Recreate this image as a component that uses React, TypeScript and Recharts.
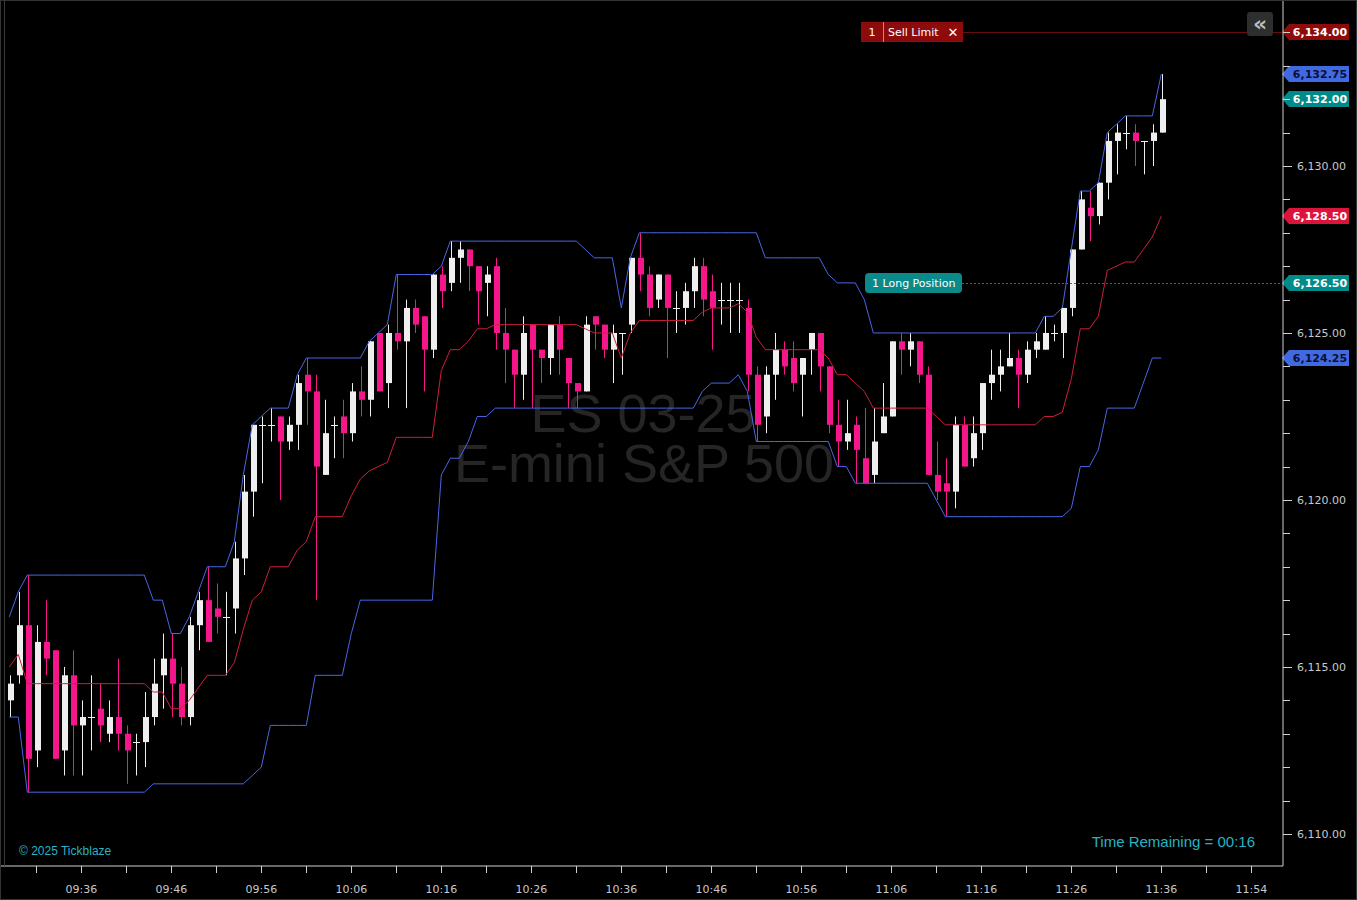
import { ComposedChart, Bar, Line, XAxis, YAxis, ReferenceLine } from 'recharts';

// 1-minute ES bars, 09:28 -> 11:36
const opens = [
    6114.0, 6114.75, 6116.25, 6112.5, 6115.75, 6115.5, 6112.5, 6114.75, 6113.25, 6113.5,
    6113.75, 6113.0, 6113.5, 6113.0, 6112.75, 6112.75, 6113.5, 6114.75, 6115.25, 6114.5,
    6113.5, 6116.25, 6117.0, 6116.75, 6116.5, 6116.75, 6118.25, 6120.25, 6122.25, 6122.25,
    6122.5, 6121.75, 6122.25, 6123.75, 6123.25, 6120.75, 6122.25, 6122.5, 6122.0, 6123.25,
    6123.0, 6125.0, 6123.5, 6125.0, 6124.75, 6125.75, 6125.5, 6124.5, 6126.75, 6126.5,
    6127.25, 6127.5, 6127.0, 6126.5, 6127.0, 6125.0, 6124.5, 6123.75, 6125.25, 6124.5,
    6124.25, 6125.25, 6124.25, 6123.5, 6123.25, 6125.5, 6125.25, 6124.5, 6125.0, 6125.25,
    6127.25, 6126.75, 6126.0, 6126.75, 6125.75, 6125.75, 6126.25, 6127.0, 6126.25, 6126.0,
    6126.0, 6126.0, 6125.75, 6123.75, 6122.5, 6123.75, 6124.5, 6124.25, 6123.75, 6124.5,
    6125.0, 6124.0, 6122.25, 6121.75, 6122.25, 6121.25, 6120.75, 6122.0, 6122.5, 6124.75,
    6124.5, 6124.75, 6123.75, 6120.75, 6120.5, 6120.25, 6122.25, 6121.25, 6122.0, 6123.5,
    6123.75, 6124.0, 6124.25, 6123.75, 6124.5, 6124.5, 6125.0, 6125.0, 6125.75, 6127.5,
    6128.75, 6128.5, 6129.5, 6130.75, 6131.0, 6131.0, 6130.75, 6130.75, 6131.0,
];
const highs = [
    6114.75, 6117.25, 6117.75, 6116.25, 6117.0, 6115.5, 6115.0, 6115.5, 6114.0, 6114.75,
    6114.5, 6114.0, 6115.25, 6113.25, 6113.0, 6114.25, 6115.25, 6116.0, 6116.0, 6115.0,
    6116.5, 6117.25, 6118.0, 6117.5, 6117.25, 6118.75, 6120.75, 6122.25, 6122.5, 6122.75,
    6122.5, 6122.5, 6123.75, 6124.25, 6123.75, 6123.0, 6122.5, 6123.0, 6123.5, 6124.0,
    6124.75, 6125.0, 6125.25, 6126.75, 6126.0, 6126.0, 6125.5, 6126.75, 6127.0, 6127.75,
    6127.75, 6127.5, 6127.0, 6127.0, 6127.25, 6125.75, 6124.5, 6125.5, 6125.25, 6124.5,
    6125.25, 6125.5, 6124.25, 6123.5, 6125.5, 6125.5, 6125.25, 6125.25, 6125.0, 6127.25,
    6128.0, 6127.0, 6126.75, 6126.75, 6126.25, 6126.5, 6127.25, 6127.25, 6126.75, 6126.5,
    6126.5, 6126.5, 6126.0, 6124.0, 6124.0, 6125.0, 6124.75, 6124.75, 6124.25, 6125.0,
    6125.0, 6124.0, 6123.0, 6123.0, 6122.5, 6122.75, 6122.75, 6123.5, 6124.75, 6125.0,
    6125.0, 6124.75, 6124.0, 6121.75, 6121.25, 6122.5, 6122.5, 6122.5, 6123.5, 6124.5,
    6124.5, 6125.0, 6124.5, 6124.75, 6125.0, 6125.5, 6125.25, 6125.75, 6127.5, 6129.25,
    6129.25, 6129.5, 6131.0, 6131.25, 6131.5, 6131.25, 6130.75, 6131.25, 6132.75,
];
const lows = [
    6113.5, 6114.5, 6111.25, 6112.0, 6114.75, 6112.25, 6111.75, 6111.75, 6111.75, 6112.5,
    6112.75, 6112.75, 6112.5, 6111.5, 6111.75, 6112.0, 6113.25, 6113.75, 6113.5, 6113.25,
    6113.25, 6115.5, 6115.75, 6116.0, 6114.75, 6116.0, 6117.75, 6119.5, 6120.5, 6121.75,
    6120.0, 6121.5, 6121.5, 6122.25, 6117.0, 6120.75, 6121.25, 6121.25, 6121.75, 6122.5,
    6122.5, 6123.25, 6122.75, 6124.5, 6122.75, 6125.0, 6123.25, 6124.25, 6125.75, 6126.25,
    6126.5, 6126.25, 6125.25, 6125.5, 6124.5, 6123.5, 6122.75, 6123.0, 6122.75, 6123.5,
    6123.75, 6123.75, 6122.75, 6122.75, 6123.25, 6124.5, 6124.25, 6123.5, 6123.75, 6125.0,
    6126.25, 6125.5, 6125.75, 6124.25, 6125.0, 6125.25, 6125.75, 6125.5, 6124.5, 6125.25,
    6125.0, 6125.0, 6123.25, 6121.75, 6122.0, 6123.0, 6123.75, 6123.25, 6122.5, 6123.75,
    6123.25, 6122.0, 6121.0, 6121.5, 6120.5, 6120.5, 6120.5, 6122.0, 6122.5, 6123.75,
    6124.0, 6123.5, 6120.75, 6120.0, 6119.5, 6119.75, 6121.0, 6121.0, 6121.5, 6123.0,
    6123.25, 6124.0, 6122.75, 6123.5, 6124.25, 6124.5, 6124.75, 6124.25, 6125.5, 6127.5,
    6127.75, 6128.25, 6129.0, 6129.75, 6130.5, 6130.0, 6129.75, 6130.0, 6131.0,
];
const closes = [
    6114.5, 6116.25, 6112.25, 6115.75, 6115.25, 6112.25, 6114.75, 6113.25, 6113.5, 6113.5,
    6113.25, 6113.5, 6113.0, 6112.5, 6112.75, 6113.5, 6114.5, 6115.25, 6114.5, 6113.5,
    6116.25, 6117.0, 6115.75, 6116.5, 6116.5, 6118.25, 6120.25, 6122.25, 6122.25, 6122.25,
    6121.75, 6122.25, 6123.5, 6123.25, 6121.0, 6122.0, 6122.25, 6122.0, 6123.25, 6123.0,
    6124.75, 6123.25, 6125.0, 6124.75, 6125.75, 6125.25, 6124.5, 6126.75, 6126.25, 6127.25,
    6127.5, 6127.0, 6126.25, 6126.75, 6125.0, 6124.5, 6123.75, 6125.0, 6124.5, 6124.25,
    6125.25, 6124.5, 6123.5, 6123.25, 6125.25, 6125.25, 6124.5, 6125.0, 6125.0, 6127.25,
    6126.75, 6125.75, 6126.75, 6125.75, 6125.75, 6126.25, 6127.0, 6126.0, 6125.75, 6126.0,
    6126.0, 6126.0, 6123.75, 6122.25, 6123.75, 6124.5, 6124.0, 6123.5, 6124.25, 6125.0,
    6124.0, 6122.25, 6121.75, 6122.0, 6121.5, 6120.5, 6121.75, 6122.5, 6124.75, 6124.5,
    6124.75, 6123.75, 6120.75, 6120.25, 6120.25, 6122.25, 6121.0, 6122.0, 6123.5, 6123.75,
    6124.0, 6124.25, 6123.75, 6124.5, 6124.75, 6125.0, 6125.0, 6125.75, 6127.5, 6129.0,
    6128.5, 6129.5, 6130.75, 6131.0, 6131.0, 6130.75, 6130.75, 6131.0, 6132.0,
];

// Donchian channel (14) as plotted
const upperBand = [
    6116.5, 6117.25, 6117.75, 6117.75, 6117.75, 6117.75, 6117.75, 6117.75, 6117.75, 6117.75,
    6117.75, 6117.75, 6117.75, 6117.75, 6117.75, 6117.75, 6117.0, 6117.0, 6116.0, 6116.0,
    6116.5, 6117.25, 6118.0, 6118.0, 6118.0, 6118.75, 6120.75, 6122.25, 6122.5, 6122.75,
    6122.75, 6122.75, 6123.75, 6124.25, 6124.25, 6124.25, 6124.25, 6124.25, 6124.25, 6124.25,
    6124.75, 6125.0, 6125.25, 6126.75, 6126.75, 6126.75, 6126.75, 6126.75, 6127.0, 6127.75,
    6127.75, 6127.75, 6127.75, 6127.75, 6127.75, 6127.75, 6127.75, 6127.75, 6127.75, 6127.75,
    6127.75, 6127.75, 6127.75, 6127.75, 6127.5, 6127.25, 6127.25, 6127.25, 6125.75, 6127.25,
    6128.0, 6128.0, 6128.0, 6128.0, 6128.0, 6128.0, 6128.0, 6128.0, 6128.0, 6128.0,
    6128.0, 6128.0, 6128.0, 6128.0, 6127.25, 6127.25, 6127.25, 6127.25, 6127.25, 6127.25,
    6127.25, 6126.75, 6126.5, 6126.5, 6126.5, 6126.0, 6125.0, 6125.0, 6125.0, 6125.0,
    6125.0, 6125.0, 6125.0, 6125.0, 6125.0, 6125.0, 6125.0, 6125.0, 6125.0, 6125.0,
    6125.0, 6125.0, 6125.0, 6125.0, 6125.0, 6125.5, 6125.5, 6125.75, 6127.5, 6129.25,
    6129.25, 6129.5, 6131.0, 6131.25, 6131.5, 6131.5, 6131.5, 6131.5, 6132.75,
];
const lowerBand = [
    6113.5, 6113.5, 6111.25, 6111.25, 6111.25, 6111.25, 6111.25, 6111.25, 6111.25, 6111.25,
    6111.25, 6111.25, 6111.25, 6111.25, 6111.25, 6111.25, 6111.5, 6111.5, 6111.5, 6111.5,
    6111.5, 6111.5, 6111.5, 6111.5, 6111.5, 6111.5, 6111.5, 6111.75, 6112.0, 6113.25,
    6113.25, 6113.25, 6113.25, 6113.25, 6114.75, 6114.75, 6114.75, 6114.75, 6116.0, 6117.0,
    6117.0, 6117.0, 6117.0, 6117.0, 6117.0, 6117.0, 6117.0, 6117.0, 6120.75, 6121.25,
    6121.25, 6121.75, 6122.5, 6122.5, 6122.75, 6122.75, 6122.75, 6122.75, 6122.75, 6122.75,
    6122.75, 6122.75, 6122.75, 6122.75, 6122.75, 6122.75, 6122.75, 6122.75, 6122.75, 6122.75,
    6122.75, 6122.75, 6122.75, 6122.75, 6122.75, 6122.75, 6122.75, 6123.25, 6123.5, 6123.5,
    6123.5, 6123.75, 6123.25, 6121.75, 6121.75, 6121.75, 6121.75, 6121.75, 6121.75, 6121.75,
    6121.75, 6121.75, 6121.0, 6121.0, 6120.5, 6120.5, 6120.5, 6120.5, 6120.5, 6120.5,
    6120.5, 6120.5, 6120.5, 6120.0, 6119.5, 6119.5, 6119.5, 6119.5, 6119.5, 6119.5,
    6119.5, 6119.5, 6119.5, 6119.5, 6119.5, 6119.5, 6119.5, 6119.5, 6119.75, 6121.0,
    6121.0, 6121.5, 6122.75, 6122.75, 6122.75, 6122.75, 6123.5, 6124.25, 6124.25,
];

const timeLabels = ['09:36', '09:46', '09:56', '10:06', '10:16', '10:26', '10:36', '10:46', '10:56', '11:06', '11:16', '11:26', '11:36', '11:54'];

const SELL_LIMIT = 6134.0;
const LONG_ENTRY = 6126.5;
const LAST_PRICE = 6132.0;

const UP = '#efefef';
const DOWN = '#f5168c';
const BAND_BLUE = '#4a66e6';
const MID_RED = '#cc1f3a';
const AXIS = '#d0d0d0';
const LABEL = '#c8c8c8';

const data = opens.map((o, i) => ({
    idx: i,
    open: o,
    high: highs[i],
    low: lows[i],
    close: closes[i],
    range: [lows[i], highs[i]],
    upper: upperBand[i],
    lower: lowerBand[i],
    mid: (upperBand[i] + lowerBand[i]) / 2,
}));

const xTicks = Array.from({ length: 28 }, (_, k) => 3 + 5 * k);
const yTicks = Array.from({ length: 25 }, (_, k) => 6110 + k);

const fmtPrice = (v: number) =>
    v.toLocaleString('en-US', { minimumFractionDigits: 2, maximumFractionDigits: 2 });

function Candle(props: any) {
    const { x, y, width, height } = props;
    const d = props.payload ?? props;
    if (x == null || y == null || !d) return null;
    const { open, close, high, low } = d;
    const yTop = Math.min(y, y + height);
    const yBot = Math.max(y, y + height);
    const k = high > low ? (yBot - yTop) / (high - low) : 0;
    const py = (v: number) => yTop + (high - v) * k;
    const cx = Math.round(x + width / 2);
    const color = close < open ? DOWN : UP;
    const bTop = py(Math.max(open, close));
    const bBot = py(Math.min(open, close));
    return (
        <g>
            <line x1={cx + 0.5} x2={cx + 0.5} y1={yTop} y2={yBot} stroke={color} strokeWidth={1} />
            {open === close ? (
                <line x1={cx - 3} x2={cx + 4} y1={Math.round(bTop) + 0.5} y2={Math.round(bTop) + 0.5} stroke={color} strokeWidth={1} />
            ) : (
                <rect x={cx - 2} y={bTop} width={6} height={Math.max(1, bBot - bTop)} fill={color} />
            )}
        </g>
    );
}

function PriceTick({ x, y, payload }: any) {
    const v = payload.value;
    const major = v % 5 === 0;
    const yy = Math.round(y) + 0.5;
    return (
        <g>
            <line x1={x} x2={x + (major ? 9 : 7)} y1={yy} y2={yy} stroke={AXIS} />
            {major && (
                <text x={x + 14} y={y + 4} fill={LABEL} fontSize={11} fontFamily="DejaVu Sans">
                    {fmtPrice(v)}
                </text>
            )}
        </g>
    );
}

function TimeTick({ x, y, payload }: any) {
    const i = payload.value;
    const li = (i - 8) / 10;
    const lbl = Number.isInteger(li) ? timeLabels[li] : null;
    const px = Math.round(x) + 0.5;
    return (
        <g>
            <line x1={px} x2={px} y1={y} y2={y + 7} stroke={AXIS} />
            {lbl && (
                <text x={x} y={y + 27} textAnchor="middle" fill={LABEL} fontSize={11} fontFamily="DejaVu Sans">
                    {lbl}
                </text>
            )}
        </g>
    );
}

function Badge({ viewBox, text, fill, textColor, kind }: any) {
    if (!viewBox) return null;
    const x0 = viewBox.x + viewBox.width;
    const y = Math.round(viewBox.y);
    return (
        <g>
            {kind === 'sell' && (
                <g>
                    <line x1={963} x2={x0} y1={y + 0.5} y2={y + 0.5} stroke="#6a0c0c" strokeWidth={1} />
                    <rect x={861} y={y - 10} width={102} height={20} fill="#8e0b0b" />
                    <text x={872} y={y + 4} textAnchor="middle" fill="#fff" fontSize={11} fontFamily="DejaVu Sans">1</text>
                    <line x1={883.5} x2={883.5} y1={y - 10} y2={y + 10} stroke="#e07a7a" />
                    <text x={888} y={y + 4} fill="#fff" fontSize={11} fontFamily="DejaVu Sans">Sell Limit</text>
                    <text x={953} y={y + 5} textAnchor="middle" fill="#fff" fontSize={13} fontWeight="bold" fontFamily="DejaVu Sans">✕</text>
                </g>
            )}
            {kind === 'long' && (
                <g>
                    <line x1={962} x2={x0} y1={y + 0.5} y2={y + 0.5} stroke="#127c7c" strokeDasharray="2 2" />
                    <rect x={865} y={y - 10} width={97} height={20} rx={4} fill="#0a8a8a" />
                    <text x={872} y={y + 4} fill="#fff" fontSize={11} fontFamily="DejaVu Sans">1 Long Position</text>
                </g>
            )}
            <path d={`M${x0 - 1},${y} L${x0 + 6},${y - 8} L${x0 + 66},${y - 8} L${x0 + 66},${y + 8} L${x0 + 6},${y + 8} Z`} fill={fill} />
            <text x={x0 + 37} y={y + 4} textAnchor="middle" fill={textColor} fontSize={11} fontWeight="bold" fontFamily="DejaVu Sans">
                {text}
            </text>
        </g>
    );
}

export default function App() {
    const last = data[data.length - 1];
    const badges = [
        { price: SELL_LIMIT, fill: '#8e0b0b', color: '#ffffff', kind: 'sell' },
        { price: last.upper, fill: '#4169e1', color: '#0b1030', kind: '' },
        { price: LAST_PRICE, fill: '#008b8b', color: '#ffffff', kind: '' },
        { price: last.mid, fill: '#dc143c', color: '#ffffff', kind: '' },
        { price: LONG_ENTRY, fill: '#008b8b', color: '#ffffff', kind: 'long' },
        { price: last.lower, fill: '#4169e1', color: '#0b1030', kind: '' },
    ];

    return (
        <div style={{ position: 'absolute', left: 0, top: 0, width: 1357, height: 900, background: '#000', overflow: 'hidden' }}>
            <svg width={1357} height={900} style={{ position: 'absolute', left: 0, top: 0 }}>
                <text x={643} y={432} textAnchor="middle" fill="#252525" fontSize={54} fontFamily="Liberation Sans">ES 03-25</text>
                <text x={644} y={482} textAnchor="middle" fill="#252525" fontSize={54} fontFamily="Liberation Sans">E-mini S&amp;P 500</text>
            </svg>
            <div style={{ position: 'absolute', left: 0, top: 0 }}>
                <ComposedChart width={1357} height={900} data={data} margin={{ top: 0, right: 0, bottom: 0, left: 0 }}>
                    <XAxis
                        type="number"
                        dataKey="idx"
                        domain={[-1.033, 141.52]}
                        allowDataOverflow
                        ticks={xTicks}
                        interval={0}
                        height={34}
                        tickSize={0}
                        tickMargin={0}
                        axisLine={{ stroke: AXIS }}
                        tickLine={false}
                        tick={<TimeTick />}
                    />
                    <YAxis
                        orientation="right"
                        domain={[6109.04, 6134.97]}
                        allowDataOverflow
                        ticks={yTicks}
                        interval={0}
                        width={74}
                        tickSize={0}
                        tickMargin={0}
                        axisLine={{ stroke: AXIS }}
                        tickLine={false}
                        tick={<PriceTick />}
                    />
                    <Line type="linear" dataKey="upper" stroke={BAND_BLUE} strokeWidth={1} dot={false} activeDot={false} isAnimationActive={false} />
                    <Line type="linear" dataKey="lower" stroke={BAND_BLUE} strokeWidth={1} dot={false} activeDot={false} isAnimationActive={false} />
                    <Line type="linear" dataKey="mid" stroke={MID_RED} strokeWidth={1} dot={false} activeDot={false} isAnimationActive={false} />
                    <Bar dataKey="range" barSize={6} shape={<Candle />} isAnimationActive={false} />
                    {badges.map((b) => (
                        <ReferenceLine
                            key={b.price}
                            y={b.price}
                            stroke="none"
                            label={<Badge text={fmtPrice(b.price)} fill={b.fill} textColor={b.color} kind={b.kind} />}
                        />
                    ))}
                </ComposedChart>
            </div>
            <svg width={1357} height={900} style={{ position: 'absolute', left: 0, top: 0, pointerEvents: 'none' }}>
                <rect x={0.5} y={0.5} width={1356} height={899} fill="none" stroke="#333" />
                <line x1={4.5} x2={4.5} y1={0} y2={866} stroke="#3a3a3a" />
                <rect x={1247} y={12} width={26} height={24} rx={3} fill="#2e2e2e" />
                <text x={1260} y={31} textAnchor="middle" fill="#bdbdbd" fontSize={22} fontWeight="bold" fontFamily="DejaVu Sans">«</text>
                <text x={19} y={855} fill="#27b3c3" fontSize={12} fontFamily="Liberation Sans">© 2025 Tickblaze</text>
                <text x={1255} y={847} textAnchor="end" fill="#27b3c3" fontSize={15} fontFamily="Liberation Sans">Time Remaining = 00:16</text>
            </svg>
        </div>
    );
}
